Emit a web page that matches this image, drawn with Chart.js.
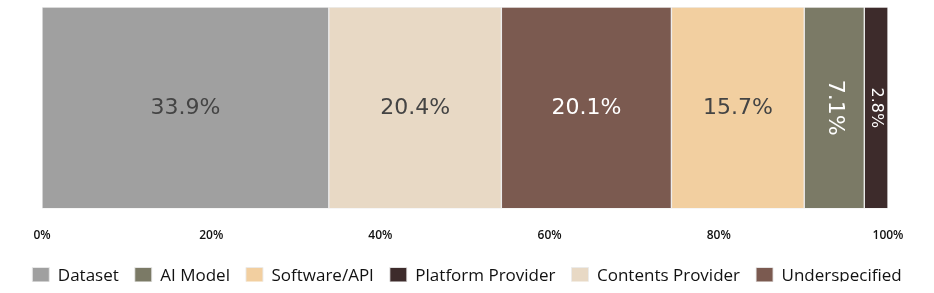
<!DOCTYPE html>
<html>
<head>
<meta charset="utf-8">
<script src="https://cdn.jsdelivr.net/npm/chart.js@4"></script>
<style>
html,body{margin:0;padding:0;background:#fff;}
#wrap{width:934px;height:293px;position:relative;}
</style>
</head>
<body>
<div id="wrap"><canvas id="c" width="934" height="293"></canvas></div>
<script>
// Stack order (left to right)
const categories = ['Dataset', 'Contents Provider', 'Underspecified', 'Software/API', 'AI Model', 'Platform Provider'];
const values = [33.9, 20.4, 20.1, 15.7, 7.1, 2.8];
const colors = ['#a0a0a0', '#e8d9c5', '#7b5a50', '#f2cfa0', '#7b7a66', '#3d2b2b'];
const labelColors = ['#444444', '#444444', '#ffffff', '#444444', '#ffffff', '#ffffff'];
// Legend order
const legendOrder = ['Dataset', 'AI Model', 'Software/API', 'Platform Provider', 'Contents Provider', 'Underspecified'];
const tickValues = [0, 20, 40, 60, 80, 100];

const LEGEND_PAD = 16;
const LEGEND_HEIGHT = 30;
const LEGEND_CENTER_Y = 276;

const datasets = categories.map((name, i) => ({
  label: name,
  data: [values[i]],
  backgroundColor: colors[i],
  borderColor: 'rgba(235,235,235,0.9)',
  borderWidth: 1,
  borderSkipped: false,
  categoryPercentage: 1.0,
  barPercentage: 1.0
}));

const labelPlugin = {
  id: 'segLabels',
  afterInit(chart) {
    const lg = chart.legend;
    if (lg) {
      const f = lg.fit;
      lg.fit = function () { f.call(this); this.height = LEGEND_HEIGHT; };
    }
  },
  afterLayout(chart) {
    const lg = chart.legend;
    if (lg) {
      const top = LEGEND_CENTER_Y - LEGEND_PAD - 17 / 2;
      const h = lg.bottom - lg.top;
      lg.top = top;
      lg.bottom = top + h;
    }
  },
  afterDatasetsDraw(chart) {
    const ctx = chart.ctx;
    chart.data.datasets.forEach((ds, i) => {
      const meta = chart.getDatasetMeta(i);
      const el = meta.data[0];
      if (!el) return;
      const props = el.getProps(['x', 'y', 'base', 'height'], true);
      const cx = (props.x + props.base) / 2;
      const cy = props.y;
      const w = Math.abs(props.x - props.base);
      const txt = values[i].toFixed(1) + '%';
      ctx.save();
      ctx.fillStyle = labelColors[i];
      ctx.textAlign = 'center';
      ctx.textBaseline = 'middle';
      ctx.translate(cx, cy);
      let size = 22;
      if (w < 80) {
        ctx.rotate(Math.PI / 2);
        if (w < 35) size = 16;
      }
      ctx.font = size + 'px "DejaVu Sans"';
      ctx.fillText(txt, 0, 0);
      ctx.restore();
    });
  }
};

const hiddenAxis = (pos, w) => ({
  position: pos,
  stacked: true,
  display: true,
  grid: { display: false, drawTicks: false },
  border: { display: false },
  ticks: { display: false },
  afterFit(scale) { scale.width = w; }
});

new Chart(document.getElementById('c'), {
  type: 'bar',
  data: { labels: [''], datasets },
  plugins: [labelPlugin],
  options: {
    indexAxis: 'y',
    responsive: false,
    animation: false,
    devicePixelRatio: 1,
    layout: { padding: { top: 7, left: 0, right: 0, bottom: 0 } },
    scales: {
      x: {
        stacked: true,
        min: 0,
        max: 100,
        afterBuildTicks(axis) { axis.ticks = tickValues.map(v => ({ value: v })); },
        grid: { display: false, drawTicks: false },
        border: { display: false },
        ticks: {
          padding: 20,
          color: '#111',
          font: { family: 'Open Sans', size: 12, weight: '600' },
          callback: v => v + '%'
        }
      },
      y: hiddenAxis('left', 42),
      y2: hiddenAxis('right', 46)
    },
    plugins: {
      tooltip: { enabled: false },
      legend: {
        position: 'bottom',
        labels: {
          boxWidth: 17,
          boxHeight: 17,
          padding: LEGEND_PAD,
          color: '#111',
          font: { family: 'Open Sans', size: 17 },
          sort: (a, b) => legendOrder.indexOf(a.text) - legendOrder.indexOf(b.text)
        }
      }
    }
  }
});
</script>
</body>
</html>
